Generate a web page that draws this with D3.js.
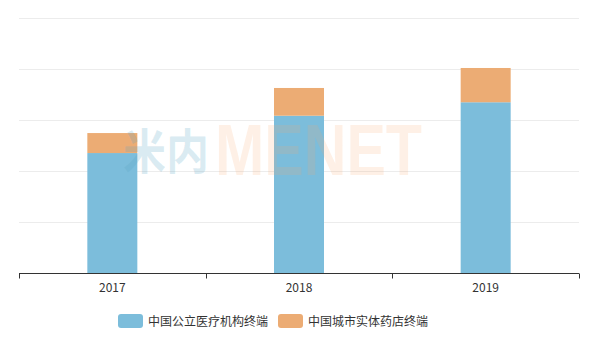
<!DOCTYPE html>
<html>
<head>
<meta charset="utf-8">
<script src="https://cdn.jsdelivr.net/npm/d3@7"></script>
<style>
  body { margin: 0; background: #fff; }
  svg { display: block; font-family: "Microsoft YaHei", "Noto Sans CJK SC", sans-serif; }
</style>
</head>
<body>
<svg width="599" height="349"></svg>
<script>
/* data */
var years = ["2017", "2018", "2019"]
var seriesNames = ["中国公立医疗机构终端", "中国城市实体药店终端"]
var publicValues = [117.6, 154.2, 167.4]
var pharmacyValues = [19.6, 27.2, 33.6]
var yTicks = [0, 50, 100, 150, 200, 250]
var colors = ["#7cbddb", "#ecac74"]

/* layout */
var plotLeft = 19, plotRight = 579, plotTop = 18, plotBottom = 273

var svg = d3.select("svg")

var x = d3.scaleBand().domain(years).range([plotLeft, plotRight])
var y = d3.scaleLinear().domain([0, 250]).range([plotBottom, plotTop])
var barWidth = 50

/* grid lines */
svg.append("g")
    .selectAll("line")
    .data(yTicks.slice(1))
    .enter()
    .append("line")
    .attr("x1", plotLeft)
    .attr("x2", plotRight)
    .attr("y1", function (d) { return Math.round(y(d)) + 0.5 })
    .attr("y2", function (d) { return Math.round(y(d)) + 0.5 })
    .attr("stroke", "#ececec")
    .attr("stroke-width", 1)

/* stacked bars */
var rows = years.map(function (yr, i) {
    return { year: yr, a: publicValues[i], b: pharmacyValues[i] }
})
var stack = d3.stack().keys(["a", "b"])(rows)

svg.append("g")
    .selectAll("g")
    .data(stack)
    .enter()
    .append("g")
    .attr("fill", function (d, i) { return colors[i] })
    .selectAll("rect")
    .data(function (d) { return d })
    .enter()
    .append("rect")
    .attr("x", function (d) { return x(d.data.year) + x.bandwidth() / 2 - barWidth / 2 })
    .attr("y", function (d) { return y(d[1]) })
    .attr("width", barWidth)
    .attr("height", function (d) { return y(d[0]) - y(d[1]) })

/* watermark */
var wm = svg.append("g").attr("pointer-events", "none")
wm.append("text")
    .text("米内")
    .attr("x", 123)
    .attr("y", 169)
    .attr("font-size", 48)
    .attr("font-weight", "bold")
    .attr("textLength", 86)
    .attr("lengthAdjust", "spacingAndGlyphs")
    .attr("fill", "#5aa5c4")
    .attr("fill-opacity", 0.22)
wm.append("text")
    .text("MENET")
    .attr("x", 215)
    .attr("y", 175)
    .attr("font-family", "Liberation Sans, Arial, sans-serif")
    .attr("font-size", 72)
    .attr("font-weight", "bold")
    .attr("textLength", 207)
    .attr("lengthAdjust", "spacingAndGlyphs")
    .attr("fill", "#f7a56a")
    .attr("fill-opacity", 0.17)

/* x axis */
var axis = svg.append("g")
    .attr("transform", "translate(0," + (plotBottom + 0.5) + ")")
axis.append("line")
    .attr("x1", plotLeft)
    .attr("x2", plotRight)
    .attr("stroke", "#333")
axis.selectAll("line.tick")
    .data(years.map(function (d) { return x(d) }).concat([plotRight]))
    .enter()
    .append("line")
    .attr("class", "tick")
    .attr("x1", function (d) { return Math.round(d) + 0.5 })
    .attr("x2", function (d) { return Math.round(d) + 0.5 })
    .attr("y1", 0)
    .attr("y2", 5)
    .attr("stroke", "#333")
axis.selectAll("text")
    .data(years)
    .enter()
    .append("text")
    .text(function (d) { return d })
    .attr("x", function (d) { return x(d) + x.bandwidth() / 2 })
    .attr("y", 18)
    .attr("text-anchor", "middle")
    .attr("font-size", 12)
    .attr("fill", "#333")

/* legend */
var legendX = [118, 278]
var legend = svg.append("g")
    .selectAll("g")
    .data(seriesNames)
    .enter()
    .append("g")
    .attr("transform", function (d, i) { return "translate(" + legendX[i] + ",314)" })
legend.append("rect")
    .attr("width", 25)
    .attr("height", 14)
    .attr("rx", 3)
    .attr("fill", function (d, i) { return colors[i] })
legend.append("text")
    .text(function (d) { return d })
    .attr("x", 30)
    .attr("y", 11.5)
    .attr("font-size", 12)
    .attr("fill", "#333")
</script>
</body>
</html>
